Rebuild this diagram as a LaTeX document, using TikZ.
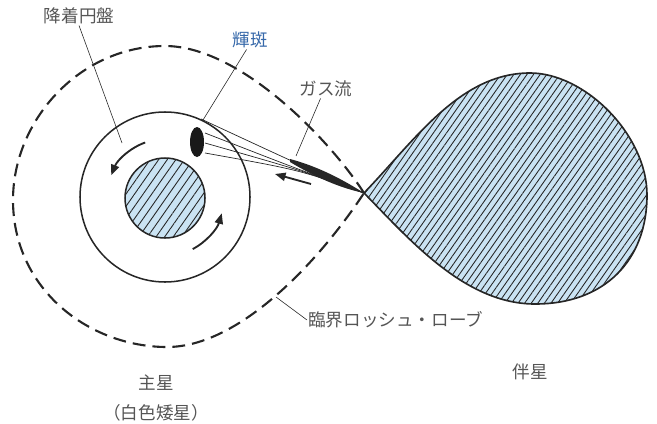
\documentclass[tikz,border=0pt]{standalone}
\usepackage{fontspec}
\setmainfont{Noto Sans CJK JP}
\usepackage{tikz}
\usetikzlibrary{arrows.meta,patterns.meta}

\definecolor{starblue}{RGB}{202,227,243}
\definecolor{txtgray}{RGB}{85,85,85}
\definecolor{spotblue}{RGB}{55,105,170}

\tikzset{
	txt/.style={text=txtgray,font=\fontsize{15}{25}\selectfont,inner sep=1pt},
	leader/.style={line width=0.5pt,black!85},
	rochelobe/.style={line width=1.8pt,black!85,dash pattern=on 11pt off 6pt},
	hatched/.style={fill=starblue,postaction={pattern={Lines[angle=55,distance=#1,line width=0.75pt]},pattern color=black!85}},
	flow/.style={line width=1.6pt,black!85,-{Triangle[length=9pt,width=7pt]}},
	stream/.style={line width=0.6pt,black!85}
}

\begin{document}
\begin{tikzpicture}[x=0.03cm,y=-0.03cm]
	\useasboundingbox (0,0) rectangle (657,423);

	\coordinate (L1) at (364,193);
	\coordinate (disk) at (165,197);

	% companion star filling its lobe
	\draw[hatched=4.6pt,line width=1.4pt,draw=black!85] (L1) .. controls (415,140) and (460,73) .. (530,73)
		.. controls (585,73) and (647,135) .. (647,195)
		.. controls (647,260) and (605,304) .. (535,304)
		.. controls (465,304) and (410,240) .. (L1) -- cycle;

	% critical lobe of the primary
	\draw[rochelobe] (L1) .. controls (330,140) and (240,46) .. (165,46)
		.. controls (80,46) and (13,120) .. (13,200)
		.. controls (13,290) and (90,347) .. (167,347)
		.. controls (240,347) and (320,260) .. (L1);

	\draw[line width=1.3pt,draw=black!85] (disk) circle[radius=85]; % disk edge
	\draw[hatched=6pt,line width=1.3pt,draw=black!85] (165,198) circle[radius=40]; % white dwarf

	% gas stream from L1 to the spot
	\draw[stream] (201,119) .. controls (300,165) .. (L1);
	\foreach \y in {133,143,153}
		\draw[stream] (205,\y) .. controls (300,170) .. (L1);
	\fill[black!85] (290,159) .. controls (320,167) and (345,181) .. (L1) .. controls (340,188) and (315,177) .. (290,162) -- cycle;
	\fill[black!90] (197,142) ellipse[x radius=7,y radius=15]; % hot spot

	% rotation of the disk and the stream
	\draw[flow] (disk) ++(250:58) arc[start angle=250,end angle=202,radius=58];
	\draw[flow] (disk) ++(62:59) arc[start angle=62,end angle=16,radius=59];
	\coordinate (flowa) at (311,184);
	\coordinate (flowb) at (275,174);
	\draw[flow] (flowa) -- (flowb);

	% labels
	\node[txt] (disklbl) at (79,16) {降着円盤};
	\node[txt,text=spotblue] (spotlbl) at (250,40) {輝斑};
	\node[txt] (gaslbl) at (326,89) {ガス流};
	\node[txt,anchor=west] (rochelbl) at (307,320) {臨界ロッシュ・ローブ};
	\node[txt,align=center] (primlbl) at (156,398) {主星\\（白色矮星）};
	\node[txt] (seclbl) at (530,372) {伴星};

	\coordinate (diskpt) at (122,143);
	\coordinate (spotpt) at (203,120);
	\coordinate (gaspt) at (296,156);
	\coordinate (rochept) at (276,297);
	\draw[leader] (disklbl.south) -- (diskpt);
	\draw[leader] (spotlbl.250) -- (spotpt);
	\draw[leader] (gaslbl.240) -- (gaspt);
	\draw[leader] (rochept) -- (rochelbl.west);
\end{tikzpicture}
\end{document}
